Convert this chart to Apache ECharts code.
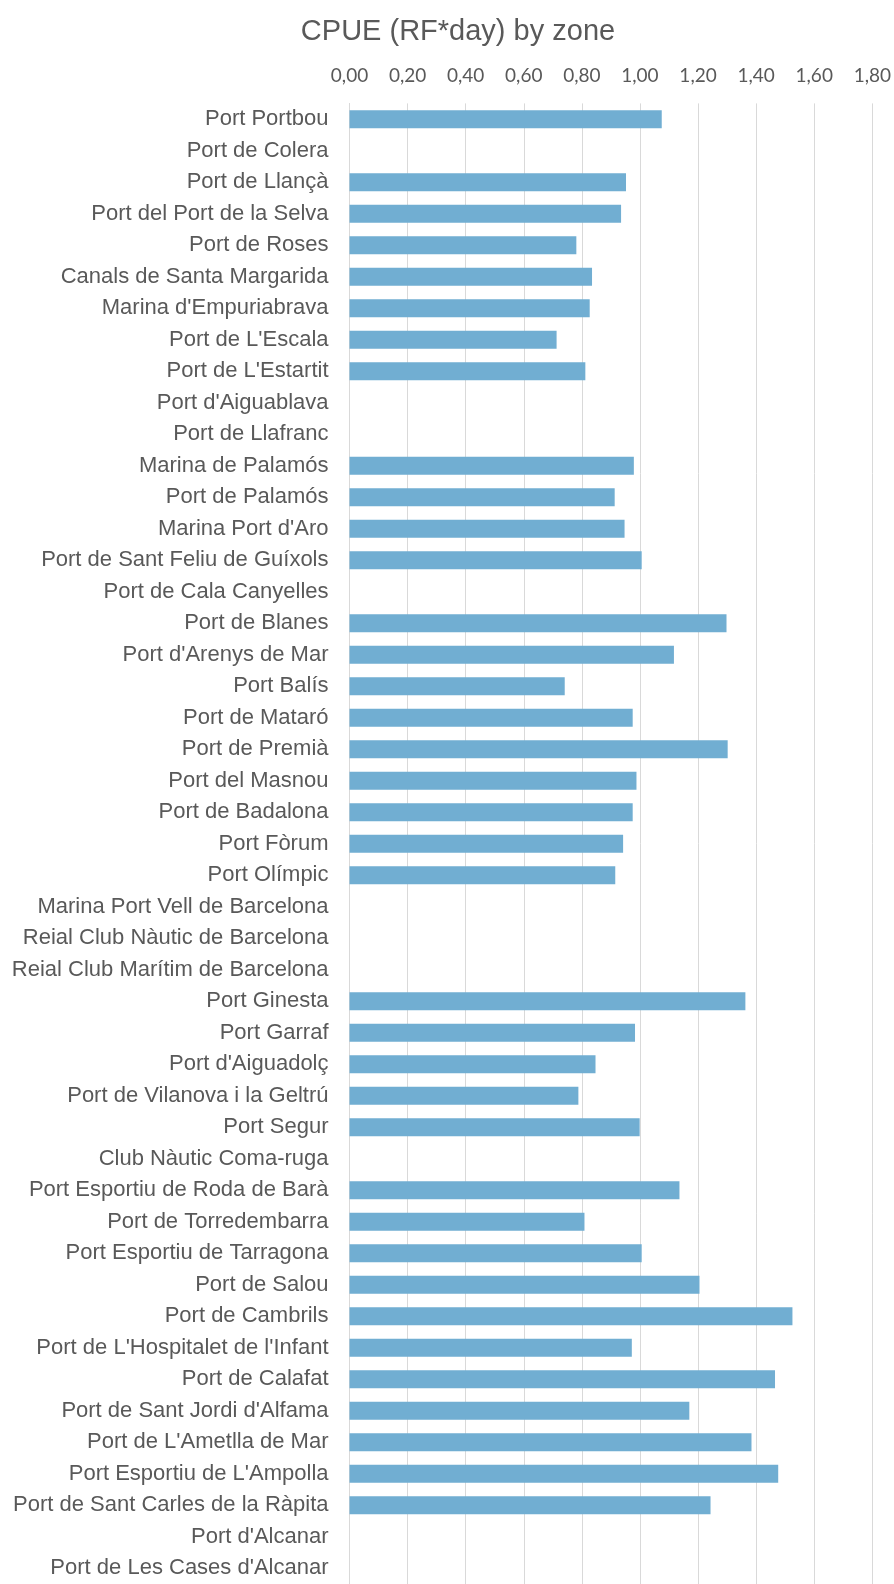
<!DOCTYPE html>
<html>
<head>
<meta charset="utf-8">
<script src="https://cdn.jsdelivr.net/npm/echarts@6/dist/echarts.min.js"></script>
<style>html,body{margin:0;padding:0;background:#fff}#c{width:894px;height:1584px}</style>
</head>
<body>
<div id="c"></div>
<script>
const titleText = "CPUE (RF*day) by zone";
const categories = [
  "Port Portbou","Port de Colera","Port de Llançà","Port del Port de la Selva","Port de Roses",
  "Canals de Santa Margarida","Marina d'Empuriabrava","Port de L'Escala","Port de L'Estartit",
  "Port d'Aiguablava","Port de Llafranc","Marina de Palamós","Port de Palamós","Marina Port d'Aro",
  "Port de Sant Feliu de Guíxols","Port de Cala Canyelles","Port de Blanes","Port d'Arenys de Mar",
  "Port Balís","Port de Mataró","Port de Premià","Port del Masnou","Port de Badalona","Port Fòrum",
  "Port Olímpic","Marina Port Vell de Barcelona","Reial Club Nàutic de Barcelona",
  "Reial Club Marítim de Barcelona","Port Ginesta","Port Garraf","Port d'Aiguadolç",
  "Port de Vilanova i la Geltrú","Port Segur","Club Nàutic Coma-ruga","Port Esportiu de Roda de Barà",
  "Port de Torredembarra","Port Esportiu de Tarragona","Port de Salou","Port de Cambrils",
  "Port de L'Hospitalet de l'Infant","Port de Calafat","Port de Sant Jordi d'Alfama",
  "Port de L'Ametlla de Mar","Port Esportiu de L'Ampolla","Port de Sant Carles de la Ràpita",
  "Port d'Alcanar","Port de Les Cases d'Alcanar"
];
const cpue = [
  1.075, null, 0.952, 0.935, 0.781,
  0.835, 0.827, 0.713, 0.812,
  null, null, 0.979, 0.913, 0.947,
  1.006, null, 1.298, 1.117,
  0.741, 0.975, 1.302, 0.988, 0.975, 0.942,
  0.915, null, null,
  null, 1.363, 0.983, 0.847,
  0.788, 0.999, null, 1.136,
  0.809, 1.006, 1.205, 1.525,
  0.972, 1.465, 1.170,
  1.384, 1.476, 1.243,
  null, null
];
const xMin = 0, xMax = 1.8, xStep = 0.2;

const chart = echarts.init(document.getElementById('c'), null, {renderer: 'canvas'});
chart.setOption({
  animation: false,
  backgroundColor: '#ffffff',
  title: {
    text: titleText,
    left: 453,
    top: 12,
    textAlign: 'center',
    textStyle: {fontFamily: 'Liberation Sans, Arial, sans-serif', fontSize: 29, fontWeight: 'normal', color: '#595959'}
  },
  grid: {left: 349.5, top: 103.4, width: 525.5, height: 1486.3, containLabel: false},
  xAxis: {
    type: 'value', position: 'top', min: xMin, max: xMax, interval: xStep,
    axisLine: {show: false}, axisTick: {show: false},
    splitLine: {show: true, lineStyle: {color: '#d9d9d9', width: 1}},
    axisLabel: {
      margin: 18, color: '#595959', fontFamily: 'Lato, sans-serif', fontSize: 19,
      formatter: v => v.toFixed(2).replace('.', ',')
    }
  },
  yAxis: {
    type: 'category', inverse: true, data: categories,
    axisLine: {show: true, lineStyle: {color: '#d9d9d9', width: 1}},
    axisTick: {show: false},
    axisLabel: {margin: 21, color: '#595959', fontFamily: 'Liberation Sans, Arial, sans-serif', fontSize: 22, interval: 0}
  },
  series: [{
    type: 'bar', data: cpue, barWidth: 18,
    itemStyle: {color: '#71aed2'}
  }]
});
</script>
</body>
</html>
